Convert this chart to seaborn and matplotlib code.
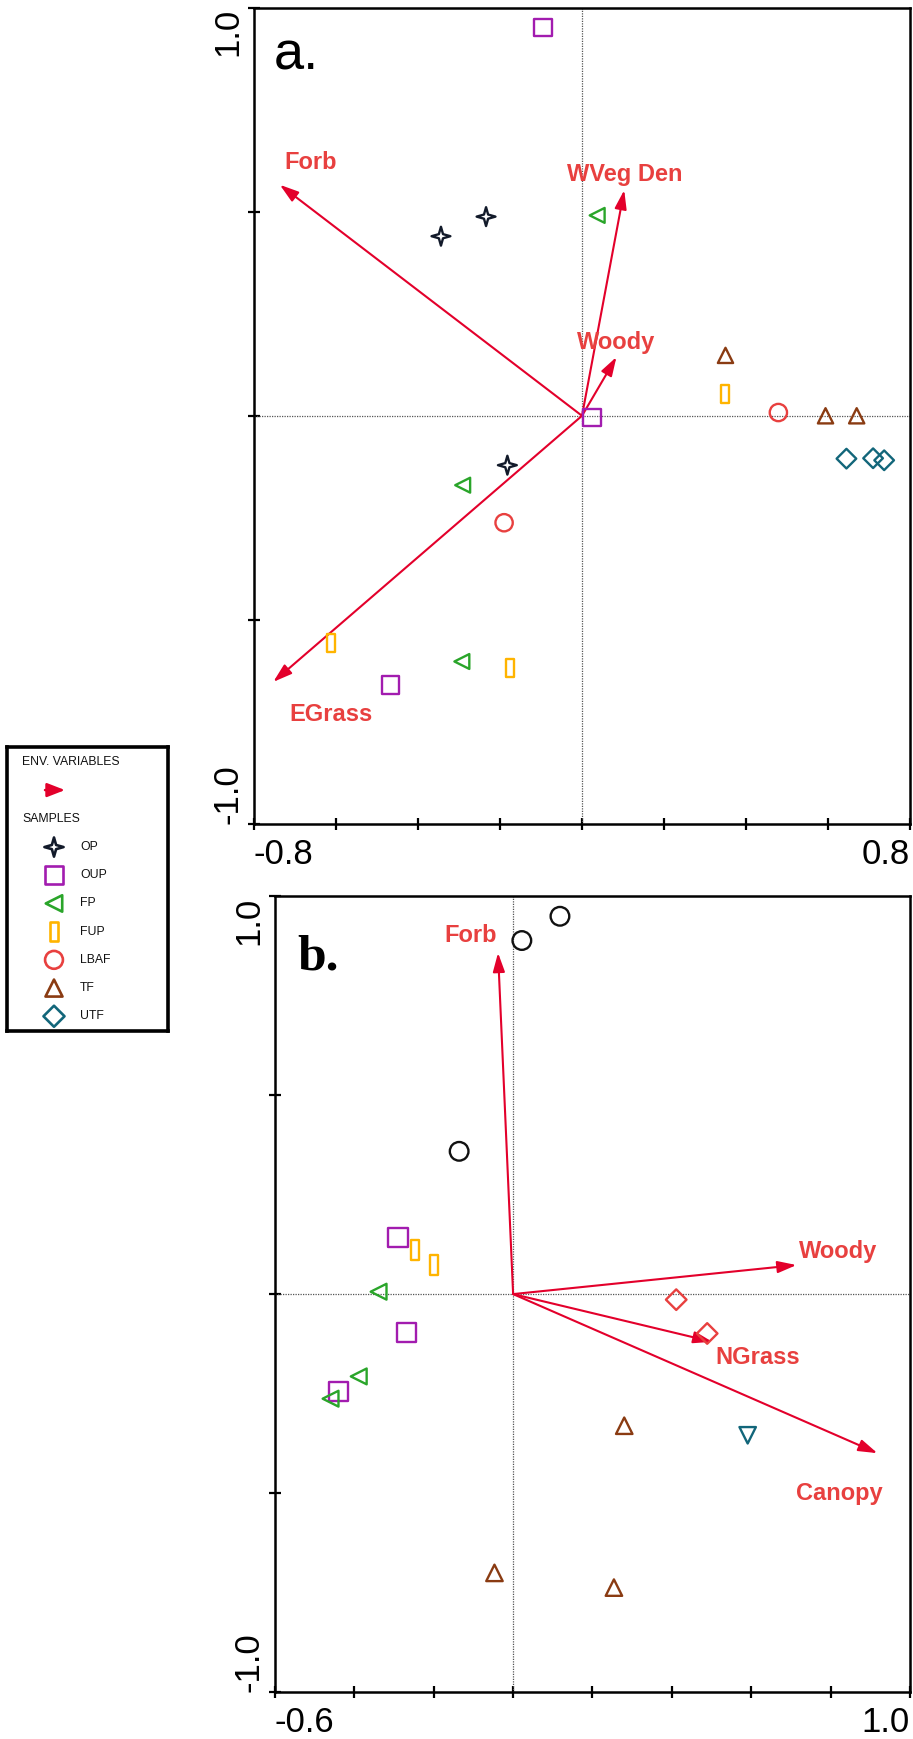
import numpy as np
import pandas as pd
import matplotlib
matplotlib.use("Agg")
import matplotlib.pyplot as plt
from matplotlib.path import Path
import seaborn as sns

sns.set_theme(style="white")
plt.rcParams['font.family'] = ['Liberation Sans', 'DejaVu Sans']

# ---------------- data: panel a ----------------
a_groups = ["OUP", "OUP", "OUP", "OP", "OP", "OP", "FP", "FP", "FP",
            "FUP", "FUP", "FUP", "LBAF", "LBAF", "TF", "TF", "TF",
            "UTF", "UTF", "UTF"]
a_x = [-0.095, 0.025, -0.467, -0.234, -0.344, -0.182, 0.037, -0.291, -0.293,
       0.349, -0.612, -0.175, 0.479, -0.190, 0.350, 0.594, 0.670,
       0.645, 0.710, 0.737]
a_y = [0.951, -0.004, -0.660, 0.488, 0.440, -0.121, 0.491, -0.170, -0.602,
       0.054, -0.556, -0.618, 0.008, -0.262, 0.148, 0.0, 0.0,
       -0.105, -0.104, -0.109]

a_vars = ["Forb", "WVeg Den", "Woody", "EGrass"]
a_vx = [-0.737, 0.103, 0.084, -0.753]
a_vy = [0.566, 0.553, 0.144, -0.652]
a_lx = [-0.661, 0.104, 0.083, -0.613]
a_ly = [0.621, 0.590, 0.179, -0.731]

# ---------------- data: panel b ----------------
b_groups = ["C1", "C1", "C1", "SQ", "SQ", "SQ", "RC", "RC",
            "LT", "LT", "LT", "DM", "DM", "TR", "TR", "TR", "DT"]
b_x = [0.118, 0.022, -0.136, -0.290, -0.269, -0.439, -0.248, -0.200,
       -0.339, -0.389, -0.460, 0.411, 0.489, 0.280, -0.047, 0.254, 0.591]
b_y = [0.950, 0.889, 0.359, 0.142, -0.096, -0.245, 0.111, 0.073,
       0.006, -0.207, -0.263, -0.014, -0.099, -0.331, -0.701, -0.738, -0.355]

b_vars = ["Forb", "Woody", "NGrass", "Canopy"]
b_vx = [-0.038, 0.714, 0.502, 0.918]
b_vy = [0.858, 0.073, -0.120, -0.400]
b_lx = [-0.106, 0.820, 0.615, 0.822]
b_ly = [0.901, 0.106, -0.159, -0.502]

legend_labels = ["OP", "OUP", "FP", "FUP", "LBAF", "TF", "UTF"]

# ---------------- styles ----------------
star = Path(np.array([(0, 1), (0.22, 0.22), (1, 0), (0.22, -0.22), (0, -1),
                      (-0.22, -0.22), (-1, 0), (-0.22, 0.22), (0, 1)]), closed=True)
rect = Path(np.array([(-0.42, -1), (0.42, -1), (0.42, 1), (-0.42, 1), (-0.42, -1)]), closed=True)

colors = {"OP": "#121a2a", "OUP": "#a21caf", "FP": "#2aa52a", "FUP": "#ffb400",
          "LBAF": "#e8403f", "TF": "#8a3b12", "UTF": "#12667a"}
markers = {"OP": star, "OUP": "s", "FP": "<", "FUP": rect,
           "LBAF": "o", "TF": "^", "UTF": "D"}
sizes_a = {"OP": 185, "OUP": 160, "FP": 115, "FUP": 175, "LBAF": 155, "TF": 120, "UTF": 100}

b_colors = {"C1": "#111111", "SQ": "#a21caf", "RC": "#ffb400", "LT": "#2aa52a",
            "DM": "#e8403f", "TR": "#8a3b12", "DT": "#12667a"}
b_markers = {"C1": "o", "SQ": "s", "RC": rect, "LT": "<", "DM": "D", "TR": "^", "DT": "v"}
sizes_b = {"C1": 180, "SQ": 190, "RC": 190, "LT": 130, "DM": 110, "TR": 140, "DT": 140}

ARROW = "#e3002b"
LABEL = "#e8403f"

fig = plt.figure(figsize=(9.13, 17.39), dpi=100)
ax_a = fig.add_axes([0.2782, 0.5262, 0.7185, 0.4694])
ax_b = fig.add_axes([0.3012, 0.02714, 0.6955, 0.4574])


def draw_points(ax, gx, gy, groups, cmap, mmap, smap):
    df = pd.DataFrame({"x": gx, "y": gy, "g": groups})
    for g in dict.fromkeys(groups):
        sub = df[df["g"] == g]
        sns.scatterplot(data=sub, x="x", y="y", ax=ax, marker=mmap[g],
                        s=smap[g], color=cmap[g], linewidth=1.7, legend=False,
                        zorder=4)
        coll = ax.collections[-1]
        coll.set_facecolor("none")
        coll.set_edgecolor(cmap[g])


def draw_arrows(ax, vx, vy, names, lx, ly):
    for x, y, n, tx, ty in zip(vx, vy, names, lx, ly):
        ax.annotate("", xy=(x, y), xytext=(0, 0),
                    arrowprops=dict(arrowstyle="-|>,head_length=0.95,head_width=0.3",
                                    color=ARROW, lw=1.5, shrinkA=0, shrinkB=0),
                    zorder=3)
        ax.text(tx, ty, n, color=LABEL, fontsize=17, fontweight="bold",
                ha="center", va="center", zorder=5)


def style_axes(ax, xlim, ylim, xt, yt, xlab, ylab, xpad, ypad):
    ax.set_xlim(*xlim)
    ax.set_ylim(*ylim)
    ax.axhline(0, color="#555555", lw=0.9, ls=(0, (1, 1)), zorder=1)
    ax.axvline(0, color="#555555", lw=0.9, ls=(0, (1, 1)), zorder=1)
    for s in ax.spines.values():
        s.set_color("black")
        s.set_linewidth(1.8)
    ax.set_xticks(xt)
    ax.set_yticks(yt)
    ax.set_xticklabels([xlab[0]] + [""] * (len(xt) - 2) + [xlab[1]])
    ax.set_yticklabels([ylab[0]] + [""] * (len(yt) - 2) + [ylab[1]])
    ax.tick_params(axis="both", direction="inout", length=8, width=1.6,
                   color="black", labelcolor="black",
                   bottom=True, left=True, top=False, right=False)
    ax.tick_params(axis="x", pad=xpad, labelsize=25)
    ax.tick_params(axis="y", pad=ypad, labelsize=25)
    xl = ax.get_xticklabels()
    xl[0].set_ha("left")
    xl[-1].set_ha("right")
    yl = ax.get_yticklabels()
    for t in yl:
        t.set_rotation(90)
    yl[0].set_va("bottom")
    yl[-1].set_va("top")
    ax.set_xlabel("")
    ax.set_ylabel("")


# panel a
draw_arrows(ax_a, a_vx, a_vy, a_vars, a_lx, a_ly)
draw_points(ax_a, a_x, a_y, a_groups, colors, markers, sizes_a)
style_axes(ax_a, (-0.8, 0.8), (-1.0, 1.0), np.arange(-0.8, 0.81, 0.2),
           np.arange(-1.0, 1.01, 0.5), ["-0.8", "0.8"], ["-1.0", "1.0"], 6, 3)
ax_a.text(0.03, 0.972, "a.", transform=ax_a.transAxes, fontsize=39,
          ha="left", va="top", color="black")

# panel b
draw_arrows(ax_b, b_vx, b_vy, b_vars, b_lx, b_ly)
draw_points(ax_b, b_x, b_y, b_groups, b_colors, b_markers, sizes_b)
style_axes(ax_b, (-0.6, 1.0), (-1.0, 1.0), np.arange(-0.6, 1.01, 0.2),
           np.arange(-1.0, 1.01, 0.5), ["-0.6", "1.0"], ["-1.0", "1.0"], 6, 3)
ax_b.text(0.035, 0.952, "b.", transform=ax_b.transAxes, fontsize=37,
          fontweight="bold", family=["Liberation Serif", "DejaVu Serif"],
          ha="left", va="top", color="black")

# legend box
ax_l = fig.add_axes([0.00767, 0.4071, 0.1763, 0.1633])
ax_l.set_xlim(0, 161)
ax_l.set_ylim(284, 0)
ax_l.set_xticks([])
ax_l.set_yticks([])
for s in ax_l.spines.values():
    s.set_color("black")
    s.set_linewidth(2.6)
ax_l.text(15, 15, "ENV. VARIABLES", fontsize=8.8, va="center", ha="left", color="#111111")
ax_l.annotate("", xy=(58, 43), xytext=(38, 43),
              arrowprops=dict(arrowstyle="-|>,head_length=0.9,head_width=0.35",
                              color=ARROW, lw=1.8, shrinkA=0, shrinkB=0))
ax_l.text(15, 72, "SAMPLES", fontsize=8.8, va="center", ha="left", color="#111111")
leg_sizes = {"OP": 190, "OUP": 165, "FP": 140, "FUP": 190, "LBAF": 165, "TF": 150, "UTF": 115}
for i, g in enumerate(legend_labels):
    yy = 100 + i * 28.2
    ax_l.scatter([47], [yy], marker=markers[g], s=leg_sizes[g], facecolors="none",
                 edgecolors=colors[g], linewidths=1.9)
    ax_l.text(73, yy, g, fontsize=8.8, va="center", ha="left", color="#111111")

fig.savefig("out.png", dpi=100)
